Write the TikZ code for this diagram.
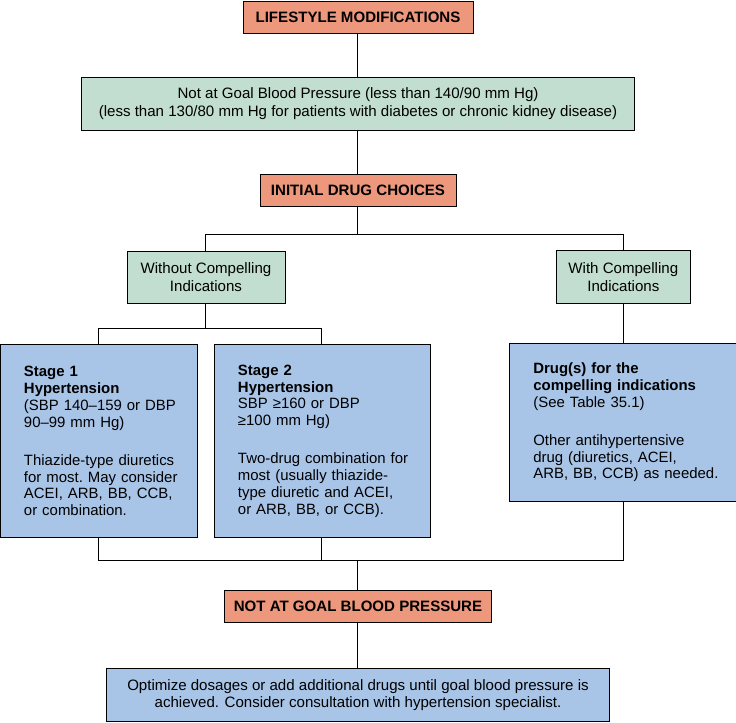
\documentclass[tikz,border=0pt]{standalone}
\usepackage{fontspec}
\setmainfont{Liberation Sans}
\usetikzlibrary{positioning}
\definecolor{salmon}{RGB}{237,151,124}
\definecolor{mint}{RGB}{193,222,208}
\definecolor{skyblue}{RGB}{168,196,231}
\newcommand\nohyph{\frenchspacing\hyphenpenalty=10000\exhyphenpenalty=10000\relax}
\newcommand\padleft{\leftskip=6pt\relax}
\tikzstyle{head} = [rectangle, minimum height=24pt, text centered, draw=black, fill=salmon, font=\fontsize{11.3}{13}\selectfont\bfseries]
\tikzstyle{branch} = [rectangle, align=center, draw=black, fill=mint, font=\fontsize{11.3}{13}\selectfont]
\tikzstyle{drugbox} = [rectangle, align=left, inner xsep=12pt, draw=black, fill=skyblue, font=\fontsize{11.2}{12.6}\selectfont\nohyph, execute at begin node=\padleft]
\tikzstyle{link} = [line width=0.75pt]
\begin{document}
\begin{tikzpicture}[node distance=65pt]
\useasboundingbox (-268.5pt,12.75pt) rectangle (283.5pt,-528.75pt);

%% NODES
\node (life) [head, minimum width=172.5pt] {LIFESTYLE MODIFICATIONS};
\node (goal) [branch, below of=life, minimum width=415pt, minimum height=40pt] {Not at Goal Blood Pressure (less than 140/90 mm Hg)\\(less than 130/80 mm Hg for patients with diabetes or chronic kidney disease)};
\node (init) [head, below of=goal, minimum width=147pt] {INITIAL DRUG CHOICES};
\node (without) [branch, below of=init, xshift=-114pt, minimum width=118.5pt, minimum height=39pt] {Without Compelling\\Indications};
\node (with) [branch, below of=init, xshift=199pt, minimum width=101pt, minimum height=40pt] {With Compelling\\Indications};
\node (stage1) [drugbox, below of=without, xshift=-80.5pt, yshift=-58pt, text width=124pt, minimum height=145pt] {\textbf{Stage 1}\\\textbf{Hypertension}\\(SBP 140–159 or DBP\\90–99 mm Hg)\\[16pt]Thiazide-type diuretics\\for most. May consider\\ACEI, ARB, BB, CCB,\\or combination.};
\node (stage2) [drugbox, below of=without, xshift=87pt, yshift=-58pt, text width=138pt, minimum height=145pt] {\textbf{Stage 2}\\\textbf{Hypertension}\\SBP ≥160 or DBP\\≥100 mm Hg)\\[16pt]Two-drug combination for\\most (usually thiazide-\\type diuretic and ACEI,\\or ARB, BB, or CCB).};
\node (drugs) [drugbox, below of=with, yshift=-44pt, text width=147pt, minimum height=118pt] {\textbf{Drug(s) for the}\\\textbf{compelling indications}\\(See Table 35.1)\\[16pt]Other antihypertensive\\drug (diuretics, ACEI,\\ARB, BB, CCB) as needed.};
\node (notgoal) [head, below of=stage2, xshift=27pt, yshift=-59pt, minimum width=200pt] {NOT AT GOAL BLOOD PRESSURE};
\node (optim) [drugbox, align=center, inner xsep=3pt, execute at begin node=\relax, below of=notgoal, yshift=-1.5pt, minimum width=377pt, minimum height=40pt, font=\fontsize{11.3}{13}\selectfont] {Optimize dosages or add additional drugs until goal blood pressure is\\achieved. Consider consultation with hypertension specialist.};

%% LINES
\draw [link] (life) -- (goal);
\draw [link] (goal) -- (init);
\draw [link] (init.south) -- ++(0,-20.75pt) coordinate (fork1);
\draw [link] (without) |- (fork1) -| (with);
\draw [link] (without.south) -- ++(0,-18.75pt) coordinate (fork2);
\draw [link] (stage1) |- (fork2) -| (stage2);
\draw [link] (with) -- (drugs);
\draw [link] (stage2.south) -- ++(0,-17.25pt) coordinate (join);
\draw [link] (stage1) |- (join) -| (drugs);
\draw [link] (notgoal) -- (notgoal |- join);
\draw [link] (notgoal) -- (optim);
\end{tikzpicture}
\end{document}
